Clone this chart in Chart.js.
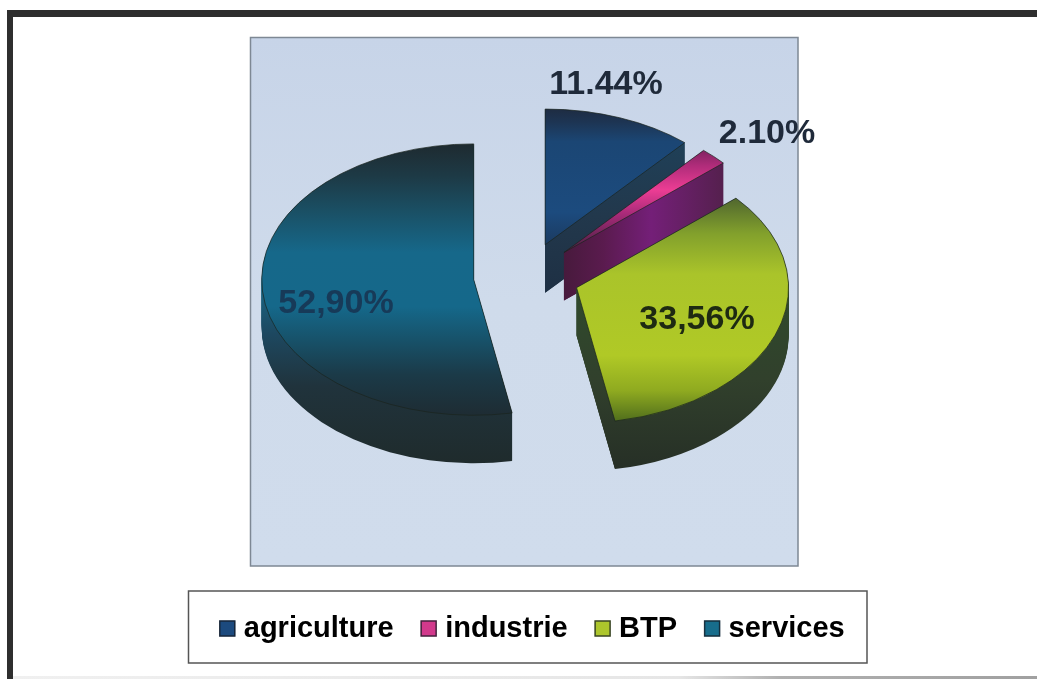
<!DOCTYPE html>
<html lang="fr">
<head>
<meta charset="utf-8">
<title>Répartition par secteur</title>
<style>
  html, body { margin: 0; padding: 0; background: #ffffff; }
  canvas { display: block; }
</style>
<script src="https://cdn.jsdelivr.net/npm/chart.js@4/dist/chart.umd.min.js"></script>
</head>
<body>
<canvas id="pie" width="1037" height="679"></canvas>
<script>
// Sector names, shares and the printed value labels
const sectors = ['agriculture', 'industrie', 'BTP', 'services'];
const shares = [11.44, 2.10, 33.56, 52.90];
const shareLabels = ['11.44%', '2.10%', '33,56%', '52,90%'];
const baseColors = ['#1c4a7e', '#d2398c', '#adc62c', '#176d8c'];

// Look of the tilted pie
const TILT = 0.64;
const DEPTH = 48;
const EXPLODE = 53;
const RADIUS = 212;
const PIE_CENTER = { x: 526.5, y: 276.5 };
const PLOT_BOX = { left: 250.5, top: 37.5, right: 798, bottom: 566 };
const LEGEND_BOX = { left: 188.5, top: 591, right: 867, bottom: 663 };

// Face shading, stops run from the top to the bottom of the slice's ellipse
const faceStops = [
  [[0, '#1e2c42'], [0.05, '#1d3554'], [0.12, '#1b4674'], [0.38, '#1c4b7e'], [0.5, '#1b3a60']],
  [[0.1, '#6e2058'], [0.18, '#b02c7a'], [0.27, '#ec3d94'], [0.36, '#a72a78'], [0.5, '#42203f']],
  [[0, '#33452c'], [0.16, '#4c622f'], [0.3, '#82a02c'], [0.45, '#aac42a'], [0.75, '#b0c926'], [0.88, '#8faa20'], [1, '#4c6a1c']],
  [[0, '#1e2a30'], [0.12, '#1d3a46'], [0.25, '#1a5065'], [0.4, '#16688a'], [0.6, '#15688a'], [0.72, '#17526a'], [0.85, '#1b3a48'], [1, '#1e2c33']]
];

// Wall shading, along the axis named for each slice
const wallStyles = [
  { axis: 'y', from: 140, to: 292, stops: [[0, '#1f4058'], [0.5, '#22384c'], [1, '#1e3044']] },
  { axis: 'x', from: 563, to: 723, stops: [[0, '#471a3c'], [0.25, '#5a1b4e'], [0.55, '#741f78'], [1, '#55204e']] },
  { axis: 'y', from: 290, to: 470, stops: [[0, '#2f4a2c'], [0.5, '#31402c'], [1, '#262f26']] },
  { axis: 'y', from: 290, to: 465, stops: [[0, '#1a6482'], [0.25, '#1d4860'], [0.55, '#20333c'], [1, '#1f2b2c']] }
];

const labelStyles = [
  { x: 606, y: 85, color: '#1f2a3a' },
  { x: 767, y: 134, color: '#1f2a3a' },
  { x: 697, y: 320, color: '#1e2a12' },
  { x: 336, y: 304, color: '#173a58' }
];

function linear(ctx, x0, y0, x1, y1, stops) {
  const g = ctx.createLinearGradient(x0, y0, x1, y1);
  stops.forEach(([at, color]) => g.addColorStop(at, color));
  return g;
}

// Sector outline on the flattened disc, lowered by `drop` pixels
function slicePath(ctx, cx, cy, start, end, drop) {
  ctx.beginPath();
  ctx.moveTo(cx, cy + drop);
  ctx.ellipse(cx, cy + drop, RADIUS, RADIUS * TILT, 0, start, end);
  ctx.closePath();
}

// Flat wall rising from one straight edge of a sector
function edgeWall(ctx, cx, cy, angle) {
  const ex = cx + Math.cos(angle) * RADIUS;
  const ey = cy + Math.sin(angle) * RADIUS * TILT;
  ctx.beginPath();
  ctx.moveTo(cx, cy);
  ctx.lineTo(ex, ey);
  ctx.lineTo(ex, ey + DEPTH);
  ctx.lineTo(cx, cy + DEPTH);
  ctx.closePath();
  ctx.fill();
}

const pageFrame = {
  id: 'pageFrame',
  beforeDraw(chart) {
    const ctx = chart.ctx;
    ctx.save();
    ctx.fillStyle = '#ffffff';
    ctx.fillRect(0, 0, chart.width, chart.height);
    ctx.fillStyle = linear(ctx, 13, 0, chart.width, 0, [[0, '#f0f0f0'], [0.65, '#e6e6e6'], [0.75, '#b0b0b0'], [1, '#a0a0a0']]);
    ctx.fillRect(13, 676, chart.width - 13, 3);
    ctx.fillStyle = '#2e2e2e';
    ctx.fillRect(7, 10, chart.width - 7, 7);
    ctx.fillRect(7, 10, 6, chart.height - 10);

    const b = PLOT_BOX;
    ctx.fillStyle = linear(ctx, 0, b.top, 0, b.bottom, [[0, '#c7d4e8'], [0.5, '#cfdbeb'], [1, '#d0dcec']]);
    ctx.fillRect(b.left, b.top, b.right - b.left, b.bottom - b.top);
    ctx.strokeStyle = '#7e8894';
    ctx.lineWidth = 1.5;
    ctx.strokeRect(b.left, b.top, b.right - b.left, b.bottom - b.top);

    const l = LEGEND_BOX;
    ctx.fillStyle = '#ffffff';
    ctx.fillRect(l.left, l.top, l.right - l.left, l.bottom - l.top);
    ctx.strokeStyle = '#555555';
    ctx.lineWidth = 1.5;
    ctx.strokeRect(l.left, l.top, l.right - l.left, l.bottom - l.top);
    ctx.restore();
  }
};

// Replaces the flat arc drawing with walls, a shaded face and the value label
const tiltedPie = {
  id: 'tiltedPie',
  beforeDatasetDraw(chart, args) {
    const ctx = chart.ctx;
    args.meta.data.forEach((arc, i) => {
      const { startAngle, endAngle } = arc.getProps(['startAngle', 'endAngle'], true);
      const mid = (startAngle + endAngle) / 2;
      const cx = PIE_CENTER.x + Math.cos(mid) * EXPLODE;
      const cy = PIE_CENTER.y + Math.sin(mid) * EXPLODE * TILT;
      const ry = RADIUS * TILT;

      ctx.save();
      const w = wallStyles[i];
      ctx.fillStyle = w.axis === 'x'
        ? linear(ctx, w.from, 0, w.to, 0, w.stops)
        : linear(ctx, 0, w.from, 0, w.to, w.stops);
      for (let drop = DEPTH; drop > 0; drop--) {
        slicePath(ctx, cx, cy, startAngle, endAngle, drop);
        ctx.fill();
      }
      edgeWall(ctx, cx, cy, startAngle);
      edgeWall(ctx, cx, cy, endAngle);
      slicePath(ctx, cx, cy, startAngle, endAngle, 0);
      ctx.fillStyle = linear(ctx, 0, cy - ry, 0, cy + ry, faceStops[i]);
      ctx.fill();
      ctx.strokeStyle = 'rgba(25, 35, 30, 0.7)';
      ctx.lineWidth = 1;
      ctx.stroke();
      ctx.restore();
    });
    return false;
  },
  afterDatasetsDraw(chart) {
    const ctx = chart.ctx;
    ctx.save();
    ctx.font = 'bold 34px "Liberation Sans", Arial, sans-serif';
    ctx.textAlign = 'center';
    ctx.textBaseline = 'middle';
    shareLabels.forEach((text, i) => {
      ctx.fillStyle = labelStyles[i].color;
      ctx.fillText(text, labelStyles[i].x, labelStyles[i].y);
    });
    ctx.restore();
  },
  afterDraw(chart) {
    // Thin dark rim round each legend swatch
    const ctx = chart.ctx;
    ctx.save();
    ctx.strokeStyle = 'rgba(20, 25, 35, 0.75)';
    ctx.lineWidth = 1.5;
    chart.legend.legendHitBoxes.forEach((box) => {
      ctx.strokeRect(box.left - 5.5, box.top + box.height / 2 - 7.5, 15, 15);
    });
    ctx.restore();
  }
};

new Chart(document.getElementById('pie'), {
  type: 'pie',
  data: {
    labels: sectors,
    datasets: [{
      data: shares,
      backgroundColor: baseColors,
      borderWidth: 0,
      radius: RADIUS
    }]
  },
  options: {
    responsive: false,
    animation: false,
    layout: { padding: { left: 33, right: 0, top: 37, bottom: 26 } },
    plugins: {
      tooltip: { enabled: false },
      legend: {
        position: 'bottom',
        labels: {
          boxWidth: 4,
          boxHeight: 4,
          padding: 33,
          color: '#1d1f24',
          font: { family: '"Liberation Sans", Arial, sans-serif', size: 29, weight: 'bold' },
          generateLabels(chart) {
            return sectors.map((name, i) => ({
              text: name,
              fillStyle: baseColors[i],
              strokeStyle: baseColors[i],
              lineWidth: 12,
              index: i
            }));
          }
        }
      }
    }
  },
  plugins: [pageFrame, tiltedPie]
});
</script>
</body>
</html>
